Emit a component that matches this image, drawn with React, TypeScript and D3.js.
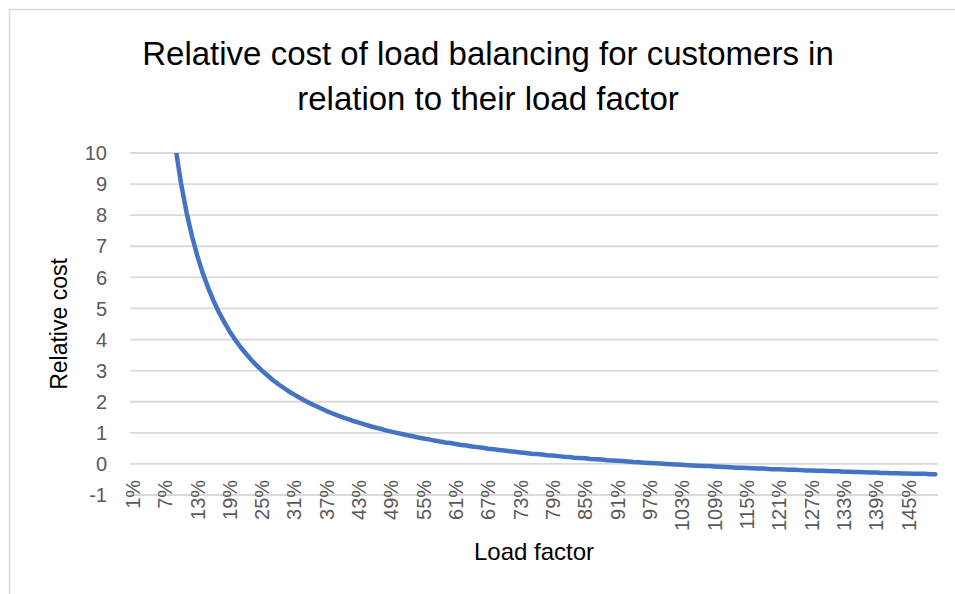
import React, { useEffect, useRef } from "react";
import * as d3 from "d3";

const W = 955;
const H = 594;
const plot = { left: 130, right: 938, top: 153, bottom: 495 };

const titleLines = [
  "Relative cost of load balancing for customers in",
  "relation to their load factor",
];
const xTitle = "Load factor";
const yTitle = "Relative cost";

// load factor categories 1% .. 150%
const categories = d3.range(1, 151).map(k => `${k}%`);

// relative cost (values above 10 run off the top)
const cost = [
  99, 49, 32.33, 24, 19, 15.67, 13.29, 11.5, 10.11, 9,
  8.09, 7.33, 6.69, 6.14, 5.67, 5.25, 4.88, 4.56, 4.26, 4,
  3.76, 3.55, 3.35, 3.17, 3, 2.85, 2.7, 2.57, 2.45, 2.33,
  2.23, 2.13, 2.03, 1.94, 1.86, 1.78, 1.7, 1.63, 1.56, 1.5,
  1.44, 1.38, 1.33, 1.27, 1.22, 1.17, 1.13, 1.08, 1.04, 1,
  0.96, 0.92, 0.89, 0.85, 0.82, 0.79, 0.75, 0.72, 0.69, 0.67,
  0.64, 0.61, 0.59, 0.56, 0.54, 0.52, 0.49, 0.47, 0.45, 0.43,
  0.41, 0.39, 0.37, 0.35, 0.33, 0.32, 0.3, 0.28, 0.27, 0.25,
  0.23, 0.22, 0.2, 0.19, 0.18, 0.16, 0.15, 0.14, 0.12, 0.11,
  0.1, 0.09, 0.08, 0.06, 0.05, 0.04, 0.03, 0.02, 0.01, 0,
  -0.01, -0.02, -0.03, -0.04, -0.05, -0.06, -0.07, -0.07, -0.08, -0.09,
  -0.1, -0.11, -0.12, -0.12, -0.13, -0.14, -0.15, -0.15, -0.16, -0.17,
  -0.17, -0.18, -0.19, -0.19, -0.2, -0.21, -0.21, -0.22, -0.22, -0.23,
  -0.24, -0.24, -0.25, -0.25, -0.26, -0.26, -0.27, -0.28, -0.28, -0.29,
  -0.29, -0.3, -0.3, -0.31, -0.31, -0.32, -0.32, -0.32, -0.33, -0.33,
];

const yTicks = [-1, 0, 1, 2, 3, 4, 5, 6, 7, 8, 9, 10];
// every sixth category gets a label
const xTickLabels = categories.filter((d, i) => i % 6 === 0);

const font = "'Liberation Sans', Arial, sans-serif";

export default function App() {
  const ref = useRef<SVGSVGElement>(null);

  useEffect(() => {
    const svg = d3.select(ref.current);
    svg.selectAll("*").remove();

    const x = d3
      .scaleBand()
      .domain(categories)
      .range([plot.left, plot.right]);
    const cx = (c: string) => (x(c) as number) + x.bandwidth() / 2;
    const y = d3.scaleLinear().domain([-1, 10]).range([plot.bottom, plot.top]);

    svg
      .append("rect")
      .attr("x", 9.5)
      .attr("y", 9.5)
      .attr("width", 1000)
      .attr("height", 1000)
      .attr("fill", "white")
      .attr("stroke", "#d9d9d9")
      .attr("stroke-width", 1.5);

    // title
    svg
      .append("g")
      .selectAll("text")
      .data(titleLines)
      .enter()
      .append("text")
      .attr("x", 488)
      .attr("y", (d, i) => 65 + i * 45)
      .attr("text-anchor", "middle")
      .style("font", `33px ${font}`)
      .style("fill", "#000")
      .text(d => d);

    // gridlines
    svg
      .append("g")
      .selectAll("line")
      .data(yTicks)
      .enter()
      .append("line")
      .attr("x1", plot.left)
      .attr("x2", plot.right)
      .attr("y1", d => y(d))
      .attr("y2", d => y(d))
      .attr("stroke", "#d9d9d9")
      .attr("stroke-width", 1.8);

    // y tick labels
    svg
      .append("g")
      .selectAll("text")
      .data(yTicks)
      .enter()
      .append("text")
      .attr("x", 107)
      .attr("y", d => y(d))
      .attr("dy", "0.36em")
      .attr("text-anchor", "end")
      .style("font", `20px ${font}`)
      .style("fill", "#595959")
      .text(d => d);

    // x tick labels, hung below the zero line
    svg
      .append("g")
      .selectAll("text")
      .data(xTickLabels)
      .enter()
      .append("text")
      .attr("transform", d => `translate(${cx(d)},${y(0) + 16}) rotate(-90)`)
      .attr("dy", "0.36em")
      .attr("text-anchor", "end")
      .style("font", `20px ${font}`)
      .style("fill", "#595959")
      .text(d => d);

    // axis titles
    svg
      .append("text")
      .attr("transform", `translate(67,${(plot.top + plot.bottom) / 2}) rotate(-90)`)
      .attr("text-anchor", "middle")
      .style("font", `23px ${font}`)
      .style("fill", "#000")
      .text(yTitle);

    svg
      .append("text")
      .attr("x", (plot.left + plot.right) / 2)
      .attr("y", 560)
      .attr("text-anchor", "middle")
      .style("font", `24px ${font}`)
      .style("fill", "#000")
      .text(xTitle);

    // line, clipped to plot area
    svg
      .append("clipPath")
      .attr("id", "plotclip")
      .append("rect")
      .attr("x", plot.left - 5)
      .attr("y", plot.top)
      .attr("width", plot.right - plot.left + 10)
      .attr("height", plot.bottom - plot.top + 5);

    const line = d3
      .line<number>()
      .x((d, i) => cx(categories[i]))
      .y(d => y(d));

    svg
      .append("path")
      .datum(cost)
      .attr("clip-path", "url(#plotclip)")
      .attr("d", line)
      .attr("fill", "none")
      .attr("stroke", "#4472c4")
      .attr("stroke-width", 4.5)
      .attr("stroke-linecap", "round")
      .attr("stroke-linejoin", "round");
  }, []);

  return (
    <svg
      ref={ref}
      width={W}
      height={H}
      style={{ position: "absolute", left: 0, top: 0, background: "white" }}
    />
  );
}
